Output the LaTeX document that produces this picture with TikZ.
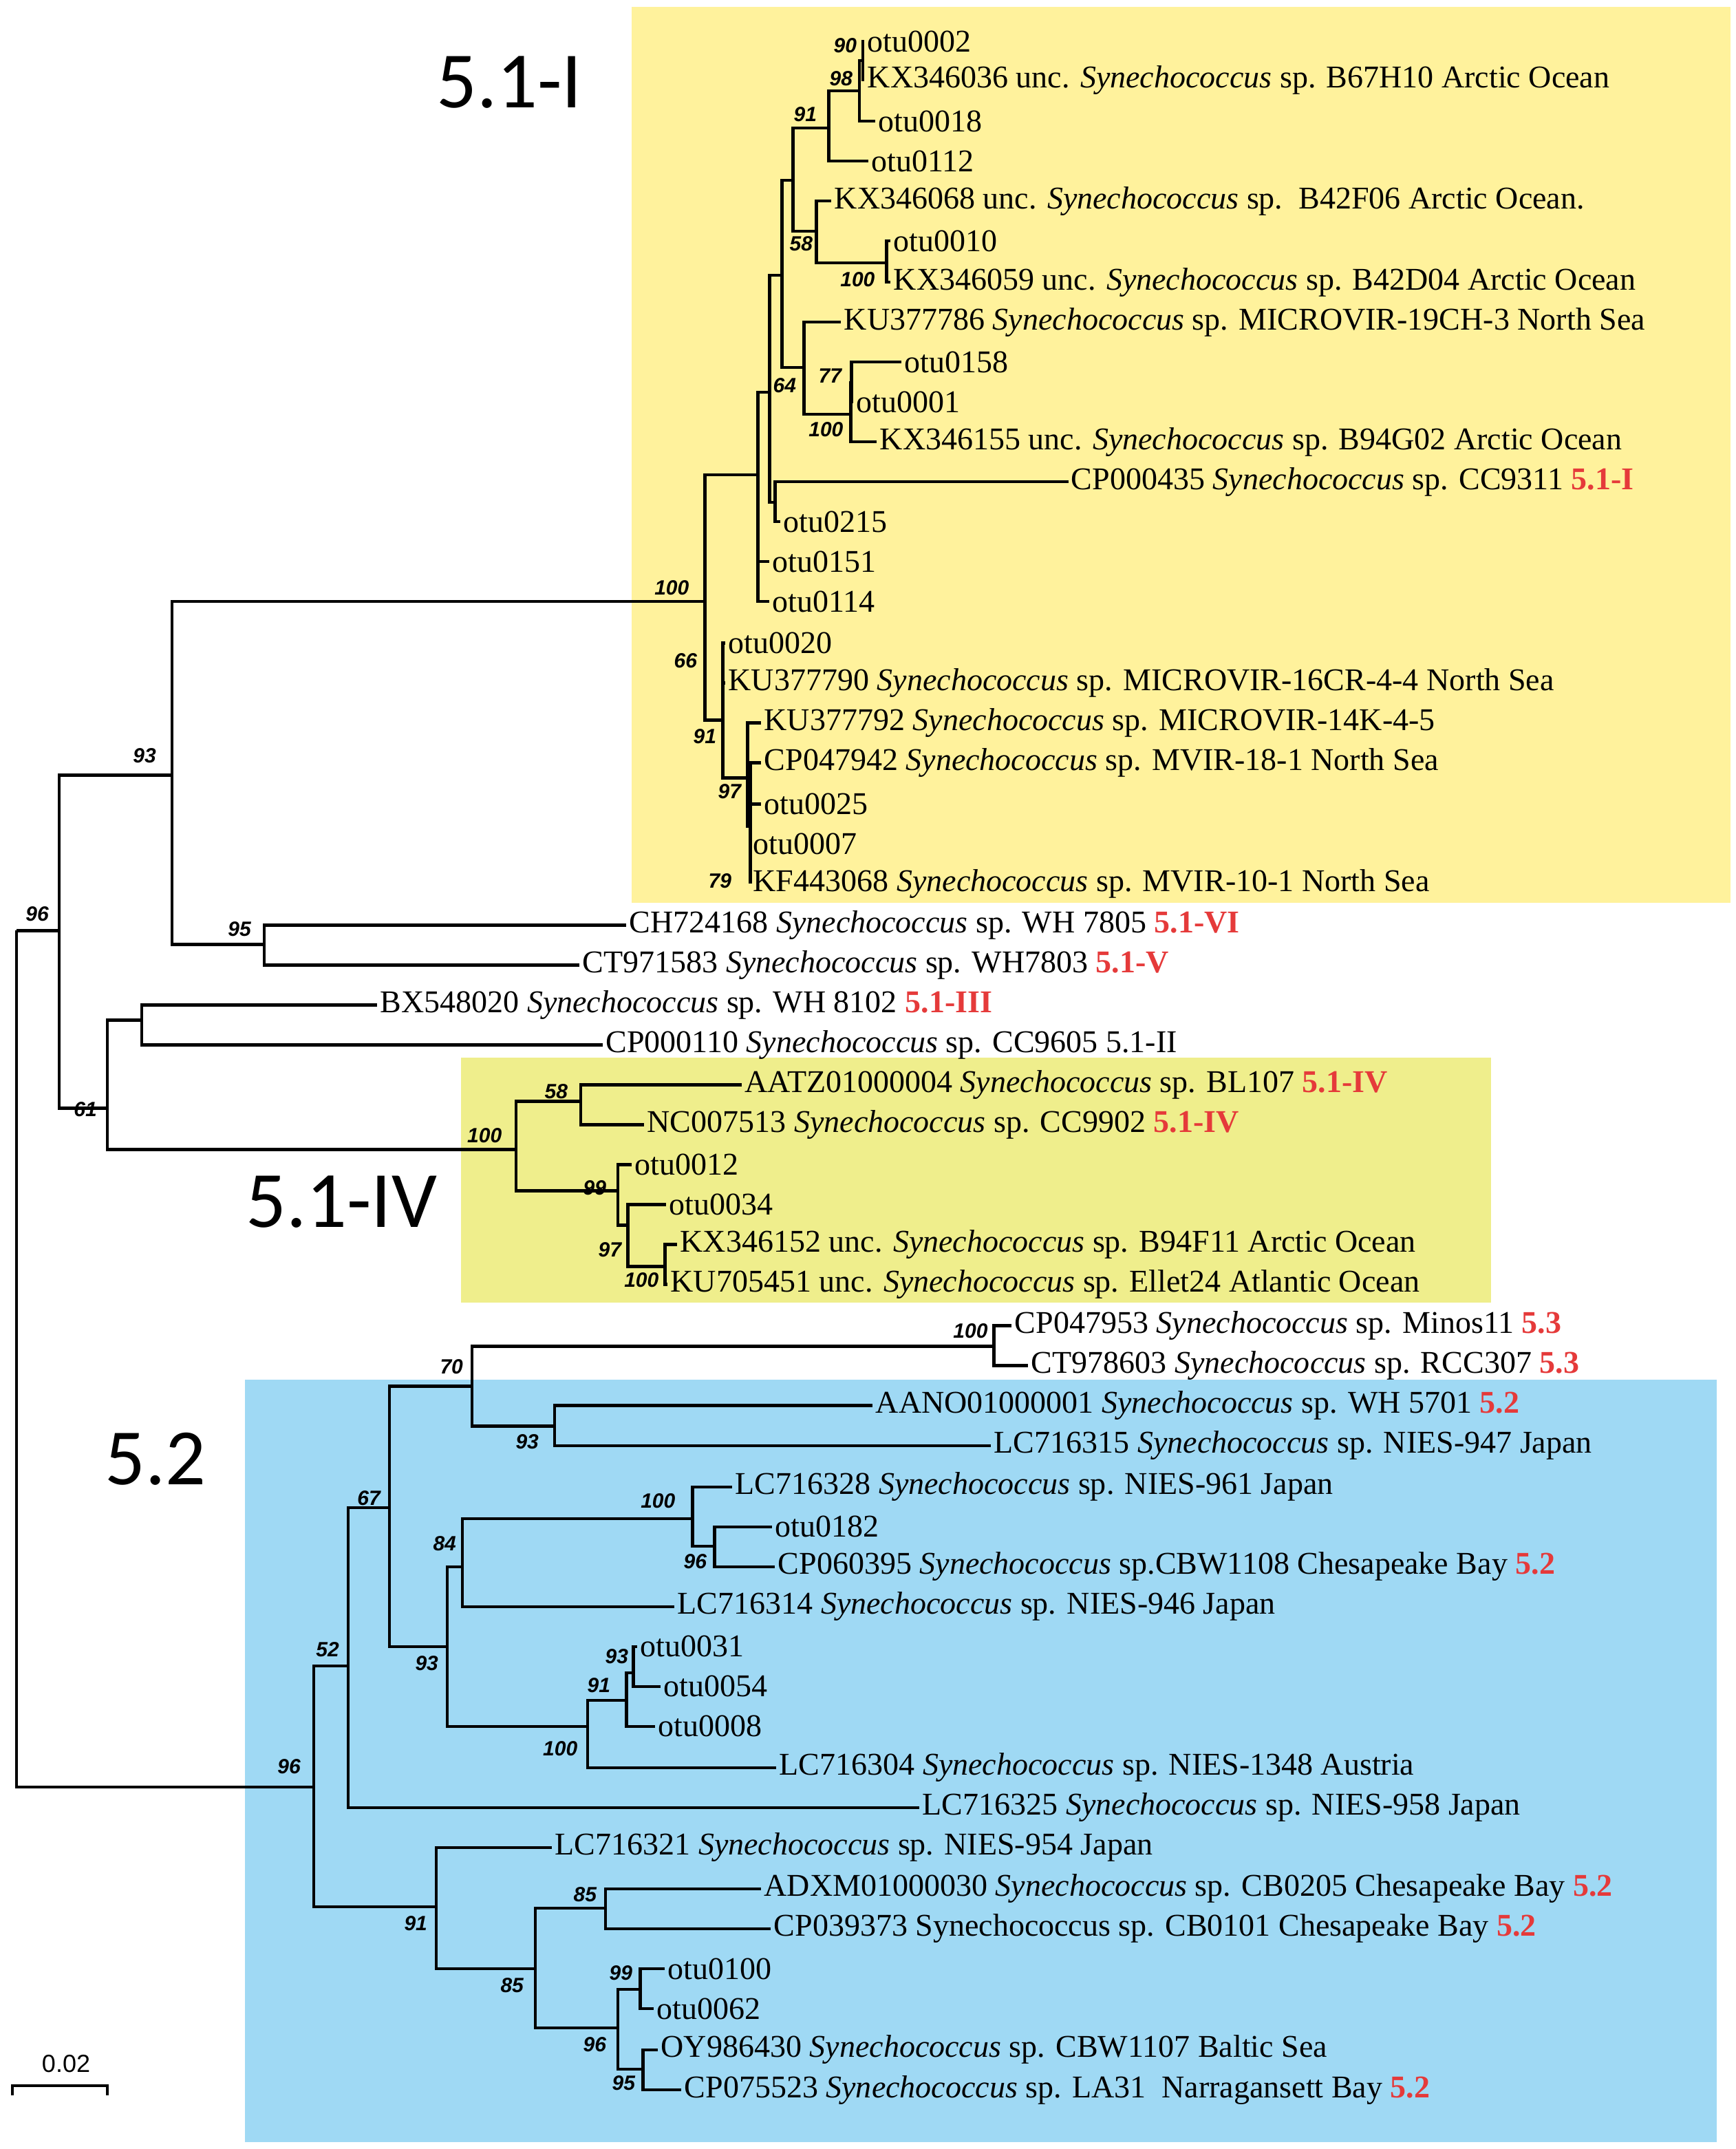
\documentclass[tikz,border=0pt]{standalone}
\usepackage{fontspec}
\setmainfont{Liberation Serif}
\newfontfamily\bsfont{Liberation Sans}
\newfontfamily\bigfont{Carlito}
\definecolor{yel1}{HTML}{FFF29C}
\definecolor{yel2}{HTML}{EFEE8C}
\definecolor{blu}{HTML}{9FD9F4}
\definecolor{redl}{HTML}{E53A3A}
\newcommand{\syn}{\textit{Synechococcus}}
\newcommand{\rd}[1]{\textcolor{redl}{\textbf{#1}}}
\begin{document}
\begin{tikzpicture}[x=1pt,y=-1pt,
  br/.style={line width=2.2pt},
  leaf/.style={anchor=west,inner xsep=2pt,inner ysep=0pt,font=\fontsize{23}{25}\selectfont},
  bs/.style={font=\bsfont\bfseries\itshape\fontsize{15}{16}\selectfont,inner sep=0pt},
  big/.style={font=\bigfont\fontsize{58}{60}\selectfont,inner sep=0pt}]
\useasboundingbox (0,0) rectangle (1261,1561);
\fill[yel1] (459,5) rectangle (1257,656);
\fill[yel2] (335,768) rectangle (1083,946);
\fill[blu] (178,1002) rectangle (1247,1556);
\node[big] (t1) at (370,60) {5.1-I};
\node[big] (t2) at (248,873) {5.1-IV};
\node[big] (t3) at (113,1060) {5.2};
% internal nodes
\foreach \n/\x/\y in {A/626.7/44, B/624.3/66, C/602/93, Q/576/131, D/593/168, E/644/191,
  Y/568/200, R/584/267, F/618/301, G/618.5/278, X/559/285, Z/563/365, P/550.5/345,
  N100/512/437, L/525/523, M/543/565, M2/545/600,
  root/12/676, Na/43/676, N93/125/563, N95/192/686, N61/78/805, N103/103/741,
  NIV/375/835, N58/422/800, N99/449/865, N97/456/890, N100b/483/920,
  Nb/228/1298, N52/253/1210, N67/283/1095, N70/343/1007, N100c/722/978, N93c/403/1036,
  N93b/325/1196, N84/336/1138, N100e/503/1103, N96c/519/1123, N100d/427/1254,
  N91c/455/1235, N93d/460/1215, N91/317/1385, N85/389/1430, N85b/440/1386,
  N96d/449/1473, N99b/465/1445, N95b/467/1503}
  \coordinate (\n) at (\x,\y);
% leaves
\node[leaf] (l1) at (628,30) {otu0002};
\node[leaf] (l2) at (628,58) {KX346036 unc. \syn{} sp. B67H10 Arctic Ocean};
\node[leaf] (l3) at (636,88) {otu0018};
\node[leaf] (l4) at (631,117) {otu0112};
\node[leaf] (l5) at (604,146) {KX346068 unc. \syn{} sp.\ \ B42F06 Arctic Ocean.};
\node[leaf] (l6) at (647,175) {otu0010};
\node[leaf] (l7) at (647,205) {KX346059 unc. \syn{} sp. B42D04 Arctic Ocean};
\node[leaf] (l8) at (611,234) {KU377786 \syn{} sp. MICROVIR-19CH-3 North Sea};
\node[leaf] (l9) at (655,263) {otu0158};
\node[leaf] (l10) at (620,292) {otu0001};
\node[leaf] (l11) at (637,321) {KX346155 unc. \syn{} sp. B94G02 Arctic Ocean};
\node[leaf] (l12) at (776,350) {CP000435 \syn{} sp. CC9311 \rd{5.1-I}};
\node[leaf] (l13) at (567,379) {otu0215};
\node[leaf] (l14) at (559,408) {otu0151};
\node[leaf] (l15) at (559,437) {otu0114};
\node[leaf] (l16) at (527,467) {otu0020};
\node[leaf] (l17) at (527,496) {KU377790 \syn{} sp. MICROVIR-16CR-4-4 North Sea};
\node[leaf] (l18) at (553,525) {KU377792 \syn{} sp. MICROVIR-14K-4-5};
\node[leaf] (l19) at (553,554) {CP047942 \syn{} sp. MVIR-18-1 North Sea};
\node[leaf] (l20) at (553,584) {otu0025};
\node[leaf] (l21) at (545,613) {otu0007};
\node[leaf] (l22) at (545,642) {KF443068 \syn{} sp. MVIR-10-1 North Sea};
\node[leaf] (l23) at (455,672) {CH724168 \syn{} sp. WH 7805 \rd{5.1-VI}};
\node[leaf] (l24) at (421,701) {CT971583 \syn{} sp. WH7803 \rd{5.1-V}};
\node[leaf] (l25) at (274,730) {BX548020 \syn{} sp. WH 8102 \rd{5.1-III}};
\node[leaf] (l26) at (438,759) {CP000110 \syn{} sp. CC9605 5.1-II};
\node[leaf] (l27) at (539,788) {AATZ01000004 \syn{} sp. BL107 \rd{5.1-IV}};
\node[leaf] (l28) at (468,817) {NC007513 \syn{} sp. CC9902 \rd{5.1-IV}};
\node[leaf] (l29) at (459,846) {otu0012};
\node[leaf] (l30) at (484,875) {otu0034};
\node[leaf] (l31) at (492,904) {KX346152 unc. \syn{} sp. B94F11 Arctic Ocean};
\node[leaf] (l32) at (485,933) {KU705451 unc. \syn{} sp. Ellet24 Atlantic Ocean};
\node[leaf] (l33) at (735,963) {CP047953 \syn{} sp. Minos11 \rd{5.3}};
\node[leaf] (l34) at (747,992) {CT978603 \syn{} sp. RCC307 \rd{5.3}};
\node[leaf] (l35) at (634,1021) {AANO01000001 \syn{} sp. WH 5701 \rd{5.2}};
\node[leaf] (l36) at (720,1050) {LC716315 \syn{} sp. NIES-947 Japan};
\node[leaf] (l37) at (532,1080) {LC716328 \syn{} sp. NIES-961 Japan};
\node[leaf] (l38) at (561,1109) {otu0182};
\node[leaf] (l39) at (563,1138) {CP060395 \syn{} sp.CBW1108 Chesapeake Bay \rd{5.2}};
\node[leaf] (l40) at (490,1167) {LC716314 \syn{} sp. NIES-946 Japan};
\node[leaf] (l41) at (463,1196) {otu0031};
\node[leaf] (l42) at (480,1225) {otu0054};
\node[leaf] (l43) at (476,1254) {otu0008};
\node[leaf] (l44) at (564,1284) {LC716304 \syn{} sp. NIES-1348 Austria};
\node[leaf] (l45) at (668,1313) {LC716325 \syn{} sp. NIES-958 Japan};
\node[leaf] (l46) at (401,1342) {LC716321 \syn{} sp. NIES-954 Japan};
\node[leaf] (l47) at (553,1372) {ADXM01000030 \syn{} sp. CB0205 Chesapeake Bay \rd{5.2}};
\node[leaf] (l48) at (560,1401) {CP039373 Synechococcus sp. CB0101 Chesapeake Bay \rd{5.2}};
\node[leaf] (l49) at (483,1430) {otu0100};
\node[leaf] (l50) at (475,1459) {otu0062};
\node[leaf] (l51) at (478,1489) {OY986430 \syn{} sp. CBW1107 Baltic Sea};
\node[leaf] (l52) at (495,1518) {CP075523 \syn{} sp. LA31\ \ Narragansett Bay \rd{5.2}};
% branches
\foreach \p/\c in {A/l1.west, A/l2.west, B/A, B/l3.west, C/B, C/l4.west, Q/C, Q/D,
  D/l5.west, D/E, E/l6.west, E/l7.west, Y/Q, Y/R, R/l8.west, R/F, F/G, F/l11.west,
  G/l9.west, G/l10.west, X/Y, X/Z, Z/l12.west, Z/l13.west, P/X, P/l14.west, P/l15.west,
  N100/P, N100/L, L/l16.west, L/l17.west, L/M, M/l18.west, M/M2, M2/l19.west,
  M2/l20.west, M2/l21.west, M2/l22.west,
  root/Na, root/Nb, Na/N93, Na/N61, N93/N100, N93/N95, N95/l23.west, N95/l24.west,
  N61/N103, N61/NIV, N103/l25.west, N103/l26.west, NIV/N58, NIV/N99, N58/l27.west,
  N58/l28.west, N99/l29.west, N99/N97, N97/l30.west, N97/N100b, N100b/l31.west,
  N100b/l32.west,
  Nb/N52, Nb/N91, N52/N67, N52/l45.west, N67/N70, N67/N93b, N70/N100c, N70/N93c,
  N100c/l33.west, N100c/l34.west, N93c/l35.west, N93c/l36.west, N93b/N84, N93b/N100d,
  N84/N100e, N84/l40.west, N100e/l37.west, N100e/N96c, N96c/l38.west, N96c/l39.west,
  N100d/N91c, N100d/l44.west, N91c/N93d, N91c/l43.west, N93d/l41.west, N93d/l42.west,
  N91/l46.west, N91/N85, N85/N85b, N85/N96d, N85b/l47.west, N85b/l48.west,
  N96d/N99b, N96d/N95b, N99b/l49.west, N99b/l50.west, N95b/l51.west, N95b/l52.west}
  \draw[br] (\p) |- (\c);
% bootstrap values
\foreach \t/\x/\y [count=\i] in {90/614/33, 98/611/57, 91/585/83, 58/582/177, 100/623/203,
  64/570/280, 77/603/273, 100/600/312, 100/488/427, 66/498/480, 91/512/535, 97/530/575,
  79/523/640, 93/105/549, 96/27/664, 95/174/675, 61/62/806, 58/404/793, 100/352/825,
  99/432/863, 97/443/908, 100/466/930, 100/705/967, 70/328/993, 93/383/1047,
  67/268/1088, 100/478/1090, 84/323/1121, 96/505/1134, 52/238/1198, 93/448/1203,
  93/310/1208, 91/435/1224, 100/407/1270, 96/210/1283, 85/425/1376, 91/302/1397,
  99/451/1433, 85/372/1442, 96/432/1485, 95/453/1513}
  \node[bs] (bs\i) at (\x,\y) {\t};
% scale bar
\coordinate (s1) at (9,1515);
\coordinate (s2) at (78,1515);
\draw[line width=1.6pt] ([yshift=-7pt]s1) -- (s1) -- (s2) -- ([yshift=-7pt]s2);
\node[font=\bsfont\fontsize{18}{20}\selectfont,inner sep=0pt] (sl) at (48,1499) {0.02};
\end{tikzpicture}
\end{document}
